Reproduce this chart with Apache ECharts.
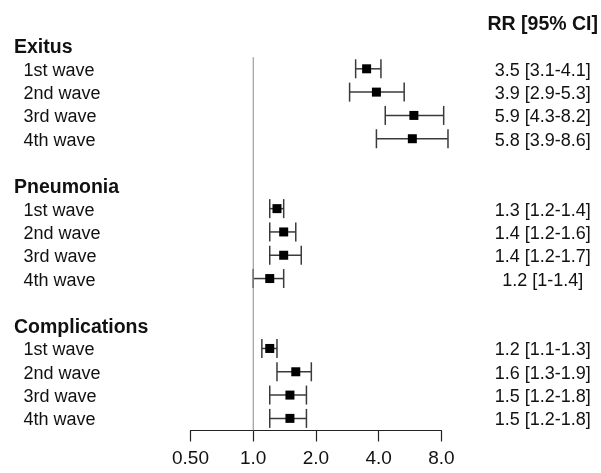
<!DOCTYPE html>
<html>
<head>
<meta charset="utf-8">
<script src="https://cdn.jsdelivr.net/npm/echarts@6/dist/echarts.min.js"></script>
<style>
html,body{margin:0;padding:0;background:#fff;}
#chart{width:601px;height:473px;}
</style>
</head>
<body>
<div id="chart"></div>
<script>
// ---- data ----
const rowLabels = ['Exitus','1st wave','2nd wave','3rd wave','4th wave','',
  'Pneumonia','1st wave','2nd wave','3rd wave','4th wave','',
  'Complications','1st wave','2nd wave','3rd wave','4th wave'];
const headerRows = [0, 6, 12];
const rightHeader = 'RR [95% CI]';
const rrLabels = ['', '3.5 [3.1-4.1]','3.9 [2.9-5.3]','5.9 [4.3-8.2]','5.8 [3.9-8.6]','',
  '', '1.3 [1.2-1.4]','1.4 [1.2-1.6]','1.4 [1.2-1.7]','1.2 [1-1.4]','',
  '', '1.2 [1.1-1.3]','1.6 [1.3-1.9]','1.5 [1.2-1.8]','1.5 [1.2-1.8]'];
const estRows = [1,2,3,4, 7,8,9,10, 13,14,15,16];
const rr = [3.5,3.9,5.9,5.8, 1.3,1.4,1.4,1.2, 1.2,1.6,1.5,1.5];
const lo = [3.1,2.9,4.3,3.9, 1.2,1.2,1.2,1.0, 1.1,1.3,1.2,1.2];
const hi = [4.1,5.3,8.2,8.6, 1.4,1.6,1.7,1.4, 1.3,1.9,1.8,1.8];
const tickValues = [0.5,1,2,4,8];
const tickLabels = ['0.50','1.0','2.0','4.0','8.0'];
const refValue = 1;

// ---- chart ----
const FONT = '"Liberation Sans", Arial, sans-serif';
const chart = echarts.init(document.getElementById('chart'), null, {renderer:'canvas'});
const seriesData = rr.map((v,i) => [v, lo[i], hi[i], estRows[i]]);
const yMin = -1, yMax = 16.52;

function rowFromValue(v){
  if (Math.abs(v - Math.round(v)) > 1e-6) return null;
  return Math.round(v);
}

const option = {
  backgroundColor: '#fff',
  animation: false,
  grid: {left: 190.5, top: 22.2, width: 251.2, height: 408.3, containLabel: false},
  xAxis: {
    type: 'log', logBase: 2, min: 0.5, max: 8, position: 'bottom',
    axisLine: {show: true, onZero: false, lineStyle: {color: '#222', width: 1.2}},
    axisTick: {show: true, length: 11, lineStyle: {color: '#222', width: 1.2}},
    splitLine: {show: false},
    axisLabel: {
      margin: 19, fontFamily: FONT, fontSize: 19, color: '#111',
      formatter: function(v){
        for (let i = 0; i < tickValues.length; i++) {
          if (Math.abs(v - tickValues[i]) < 1e-6) return tickLabels[i];
        }
        return '';
      }
    }
  },
  yAxis: [{
    type: 'value', inverse: true, min: yMin, max: yMax, interval: 1, position: 'left',
    axisLine: {show: false}, axisTick: {show: false}, splitLine: {show: false},
    axisLabel: {
      align: 'left', margin: 176.5, fontFamily: FONT, color: '#111',
      showMinLabel: true, showMaxLabel: true,
      formatter: function(v){
        const r = rowFromValue(v);
        if (r === null || r < 0 || r >= rowLabels.length || !rowLabels[r]) return '';
        return headerRows.indexOf(r) >= 0 ? '{h|' + rowLabels[r] + '}' : '{w|' + rowLabels[r] + '}';
      },
      rich: {
        h: {fontFamily: FONT, fontWeight: 'bold', fontSize: 19.5, color: '#111', padding: [4,0,0,0]},
        w: {fontFamily: FONT, fontSize: 18, color: '#111', padding: [4,0,0,9.5]}
      }
    }
  }, {
    type: 'value', inverse: true, min: yMin, max: yMax, interval: 1, position: 'right',
    axisLine: {show: false}, axisTick: {show: false}, splitLine: {show: false},
    axisLabel: {
      align: 'center', margin: 101.3, fontFamily: FONT, color: '#111',
      formatter: function(v){
        const r = rowFromValue(v);
        if (r === null) return '';
        if (r === -1) return '{h|' + rightHeader + '}';
        if (r < 0 || r >= rrLabels.length || !rrLabels[r]) return '';
        return '{w|' + rrLabels[r] + '}';
      },
      rich: {
        h: {fontFamily: FONT, fontWeight: 'bold', fontSize: 19.5, color: '#111', padding: [5,0,0,0]},
        w: {fontFamily: FONT, fontSize: 18, color: '#111', padding: [4,0,0,0]}
      }
    }
  }],
  series: [{
    type: 'line', xAxisIndex: 0, yAxisIndex: 0,
    data: [[refValue, 0.5], [refValue, yMax]],
    symbol: 'none', silent: true,
    lineStyle: {color: '#8a8a8a', width: 1}
  }, {
    type: 'custom', xAxisIndex: 0, yAxisIndex: 0,
    data: seriesData,
    encode: {x: [0,1,2], y: 3},
    renderItem: function(params, api){
      const row = api.value(3);
      const p = api.coord([api.value(0), row]);
      const l = api.coord([api.value(1), row]);
      const h = api.coord([api.value(2), row]);
      const cap = 9.5, sq = 9;
      const st = {stroke: '#3a3a3a', lineWidth: 1.5};
      return {
        type: 'group',
        children: [
          {type: 'line', shape: {x1: l[0], y1: l[1], x2: h[0], y2: h[1]}, style: st},
          {type: 'line', shape: {x1: l[0], y1: l[1]-cap, x2: l[0], y2: l[1]+cap}, style: st},
          {type: 'line', shape: {x1: h[0], y1: h[1]-cap, x2: h[0], y2: h[1]+cap}, style: st},
          {type: 'rect', shape: {x: p[0]-sq/2, y: p[1]-sq/2, width: sq, height: sq}, style: {fill: '#000'}}
        ]
      };
    }
  }]
};
chart.setOption(option);
</script>
</body>
</html>
